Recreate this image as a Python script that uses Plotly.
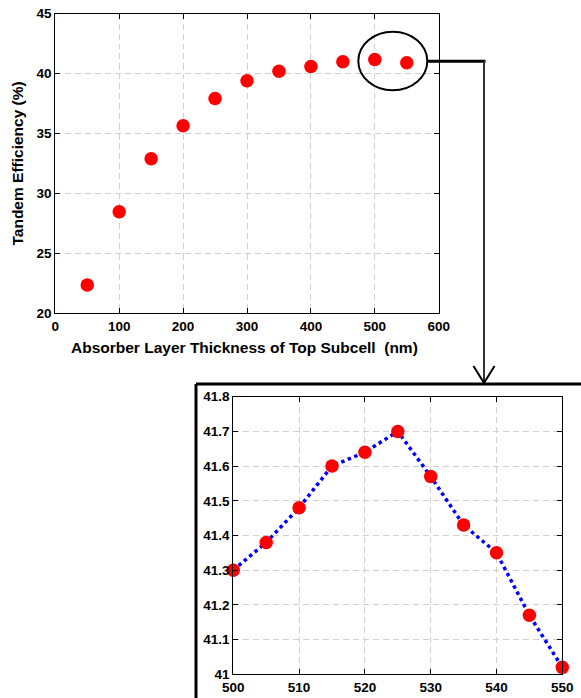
import plotly.graph_objects as go

# Main sweep data
thickness = [50, 100, 150, 200, 250, 300, 350, 400, 450, 500, 550]
efficiency = [22.36, 28.47, 32.89, 35.64, 37.92, 39.39, 40.19, 40.58, 40.97, 41.17, 40.9]

# Zoomed sweep data
thickness_zoom = [500, 505, 510, 515, 520, 525, 530, 535, 540, 545, 550]
efficiency_zoom = [41.30, 41.38, 41.48, 41.60, 41.64, 41.70, 41.57, 41.43, 41.35, 41.17, 41.02]

x_title = "Absorber Layer Thickness of Top Subcell&#160; (nm)"
y_title = "Tandem Efficiency (%)"

W, H = 581, 698
def px(x):
    return x / W
def py(y):
    return 1 - y / H

FONT = "Liberation Sans, Arial, sans-serif"
fig = go.Figure()

fig.add_trace(go.Scatter(x=thickness, y=efficiency, mode="markers",
                         marker=dict(color="#ff0000", size=13.5),
                         xaxis="x", yaxis="y", cliponaxis=False, showlegend=False))
fig.add_trace(go.Scatter(x=thickness_zoom, y=efficiency_zoom, mode="lines",
                         line=dict(color="#0000ff", width=3.5, dash="dot"),
                         xaxis="x2", yaxis="y2", cliponaxis=False, showlegend=False))
fig.add_trace(go.Scatter(x=thickness_zoom, y=efficiency_zoom, mode="markers",
                         marker=dict(color="#ff0000", size=13.5),
                         xaxis="x2", yaxis="y2", cliponaxis=False, showlegend=False))

axis_common = dict(showline=True, linecolor="black", linewidth=1.2, mirror="allticks",
                   ticks="inside", ticklen=5, tickcolor="black", automargin=False,
                   showgrid=True, gridcolor="#d0d0d0", griddash="6px,4px", gridwidth=1,
                   zeroline=False,
                   tickfont=dict(family=FONT, size=13.5, color="black", weight="bold"))

fig.update_layout(
    width=W, height=H, margin=dict(l=0, r=0, t=0, b=0),
    paper_bgcolor="white", plot_bgcolor="white",
    xaxis=dict(domain=[px(55.3), px(438.7)], range=[0, 600], dtick=100, anchor="y",
               **axis_common),
    yaxis=dict(domain=[py(313.3), py(13.5)], range=[20, 45], dtick=5, anchor="x",
               **axis_common),
    xaxis2=dict(domain=[px(233.3), px(562.3)], range=[500, 550], dtick=10, anchor="y2",
                **axis_common),
    yaxis2=dict(domain=[py(674.3), py(396.7)], range=[41, 41.8], dtick=0.1, anchor="x2",
                **axis_common),
)

title_font = dict(family=FONT, size=15.5, color="black", weight="bold")
fig.add_annotation(text=x_title, xref="paper", yref="paper", x=px(244), y=py(347),
                   showarrow=False, xanchor="center", yanchor="middle", font=title_font)
fig.add_annotation(text=y_title, xref="paper", yref="paper", x=px(17.5), y=py(164),
                   showarrow=False, xanchor="center", yanchor="middle", textangle=-90,
                   font=title_font)

shapes = []
# ellipse around the highlighted region
shapes.append(dict(type="circle", xref="paper", yref="paper",
                   x0=px(358.3), x1=px(427.3), y0=py(90.3), y1=py(31.7),
                   line=dict(color="black", width=2)))
# connector lines
shapes.append(dict(type="line", xref="paper", yref="paper",
                   x0=px(427), y0=py(61.3), x1=px(485.5), y1=py(61.3),
                   line=dict(color="black", width=3)))
shapes.append(dict(type="line", xref="paper", yref="paper",
                   x0=px(484), y0=py(61.3), x1=px(484), y1=py(383),
                   line=dict(color="#333333", width=2)))
# arrow head (open V)
shapes.append(dict(type="line", xref="paper", yref="paper",
                   x0=px(473.5), y0=py(366), x1=px(484), y1=py(383),
                   line=dict(color="black", width=2)))
shapes.append(dict(type="line", xref="paper", yref="paper",
                   x0=px(494.5), y0=py(366), x1=px(484), y1=py(383),
                   line=dict(color="black", width=2)))
# inset frame
shapes.append(dict(type="line", xref="paper", yref="paper",
                   x0=px(196), y0=py(384), x1=px(581), y1=py(384),
                   line=dict(color="black", width=3)))
shapes.append(dict(type="line", xref="paper", yref="paper",
                   x0=px(196), y0=py(384), x1=px(196), y1=py(698),
                   line=dict(color="black", width=3)))
fig.update_layout(shapes=shapes)

fig.write_html("out.html")
